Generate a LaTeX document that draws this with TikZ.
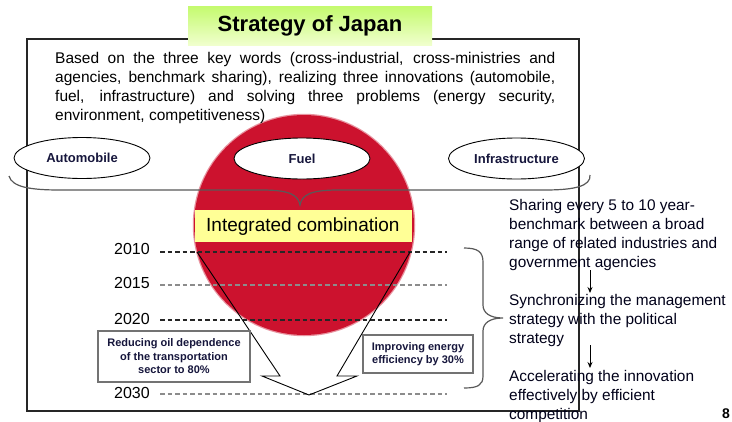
\documentclass[tikz,border=0pt]{standalone}
\usepackage{fontspec}
\setmainfont{Liberation Sans}
\usetikzlibrary{shapes.geometric,arrows.meta}
\definecolor{sunred}{RGB}{204,18,46}
\definecolor{ink}{RGB}{22,22,60}
\definecolor{paleyellow}{RGB}{255,255,150}
\definecolor{titletop}{RGB}{196,250,110}
\definecolor{titlebot}{RGB}{240,255,205}
\tikzset{
  frame/.style={draw=black!85, line width=1.3pt},
  keyoval/.style={ellipse, draw=black, line width=0.9pt, fill=white,
    minimum width=136pt, minimum height=41pt, inner sep=0pt,
    text=ink, font=\fontsize{13}{15}\selectfont\bfseries},
  goalbox/.style={draw=black!55, line width=1.4pt, fill=white, align=center,
    inner sep=0pt, text=ink, font=\fontsize{11}{13.5}\selectfont\bfseries},
  yearlabel/.style={anchor=base east, inner sep=0pt, font=\fontsize{16}{18}\selectfont},
  darkdash/.style={draw=black!85, line width=1.1pt, dash pattern=on 4.5pt off 3pt},
  lightdash/.style={draw=black!45, line width=1.1pt, dash pattern=on 4.5pt off 3pt},
  bracecurve/.style={draw=black!65, line width=1.2pt},
  steptext/.style={anchor=base west, inner sep=0pt, text=black!90!blue},
  steparrow/.style={draw=black, line width=0.9pt, -{Stealth[length=6pt,width=5pt]}}
}
\begin{document}
\begin{tikzpicture}[x=1pt,y=-1pt]
\useasboundingbox (0,0) rectangle (732,421);
\fill[white] (0,0) rectangle (732,421);

% outer frame of the strategy panel
\draw[frame] (27,39) rectangle (579,411);

% red sun disc
\fill[sunred] (304,225) circle[radius=110];
\draw[sunred, opacity=0.45, line width=1.5pt] (304,225) circle[radius=110.5];

% intro paragraph
\node[anchor=base west, inner sep=0pt] (intro) at (55,63) {\parbox[t]{500pt}{%
  \fontsize{15.5}{19}\selectfont\tolerance=10000
  Based on the three key words (cross-industrial, cross-ministries and\linebreak
  agencies, benchmark sharing), realizing three innovations (automobile,\linebreak
  fuel, infrastructure) and solving three problems (energy security,\linebreak
  environment, competitiveness)}};

% the three innovations
\node[keyoval] (auto) at (82,158) {Automobile};
\node[keyoval] (fuel) at (302,158.5) {Fuel};
\node[keyoval] (infra) at (516.5,158.5) {Infrastructure};

% wide brace gathering the three innovations
\draw[bracecurve] (9,176) .. controls (12,187) and (30,190) .. (60,190)
  -- (262,190) .. controls (290,190) and (298,195) .. (300,205)
  .. controls (302,195) and (310,190) .. (338,190)
  -- (545,190) .. controls (575,190) and (591,186) .. (590,175);

% integrated combination banner
\fill[paleyellow] (195,210) rectangle (412,242);
\node[anchor=west, inner sep=0pt, font=\fontsize{19}{22}\selectfont] (combo) at (206,227) {Integrated combination};

% timeline
\node[yearlabel] (y2010) at (150,254) {2010};
\node[yearlabel] (y2015) at (150,288) {2015};
\node[yearlabel] (y2020) at (150,324) {2020};
\node[yearlabel] (y2030) at (150,398) {2030};
\draw[darkdash] (160,252) -- (447,252);
\draw[lightdash] (160,285) -- (447,285);
\draw[darkdash] (160,320) -- (447,320);
\draw[lightdash] (160,394) -- (447,394);

% large converging arrow
\draw[black, line width=0.9pt, line join=miter]
  (197,252) -- (280,376) -- (262,376) -- (309,395) -- (357,376) -- (337,376) -- (410,252);

% targets
\node[goalbox, minimum width=152pt, minimum height=51pt] (oil) at (174,356.5)
  {Reducing oil dependence\\of the transportation\\sector to 80\%};
\node[goalbox, minimum width=110pt, minimum height=38pt] (eff) at (418,354)
  {Improving energy\\efficiency by 30\%};

% brace over the timeline
\draw[bracecurve] (464,248) .. controls (478,248) and (483,252) .. (483,262)
  -- (483,305) .. controls (483,313) and (490,318) .. (503,318)
  .. controls (490,318) and (483,323) .. (483,331)
  -- (483,376) .. controls (483,385) and (478,388) .. (464,388);

% process steps
\node[steptext] (share) at (509,210) {\parbox[t]{222pt}{\raggedright\fontsize{15.4}{19}\selectfont
  Sharing every 5 to 10 year-\\benchmark between a broad\\range of related industries and\\government agencies}};
\node[steptext] (sync) at (509,305) {\parbox[t]{222pt}{\raggedright\fontsize{15.4}{19}\selectfont
  Synchronizing the management\\strategy with the political\\strategy}};
\node[steptext] (accel) at (509,381) {\parbox[t]{222pt}{\raggedright\fontsize{15.4}{19}\selectfont
  Accelerating the innovation\\effectively by efficient\\competition}};
\coordinate (a1s) at (590,270);
\coordinate (a1e) at (590,293);
\coordinate (a2s) at (590,345);
\coordinate (a2e) at (590,368);
\draw[steparrow] (a1s) -- (a1e);
\draw[steparrow] (a2s) -- (a2e);

% title banner
\node[draw=none, top color=titletop, bottom color=titlebot, minimum width=244pt,
  minimum height=39pt, inner sep=0pt, font=\fontsize{22}{24}\selectfont\bfseries]
  (title) at (310,25.5) {Strategy of Japan};

% page number
\node[anchor=base west, inner sep=0pt, font=\fontsize{14}{16}\selectfont\bfseries] (pageno) at (722,418) {8};
\end{tikzpicture}
\end{document}
